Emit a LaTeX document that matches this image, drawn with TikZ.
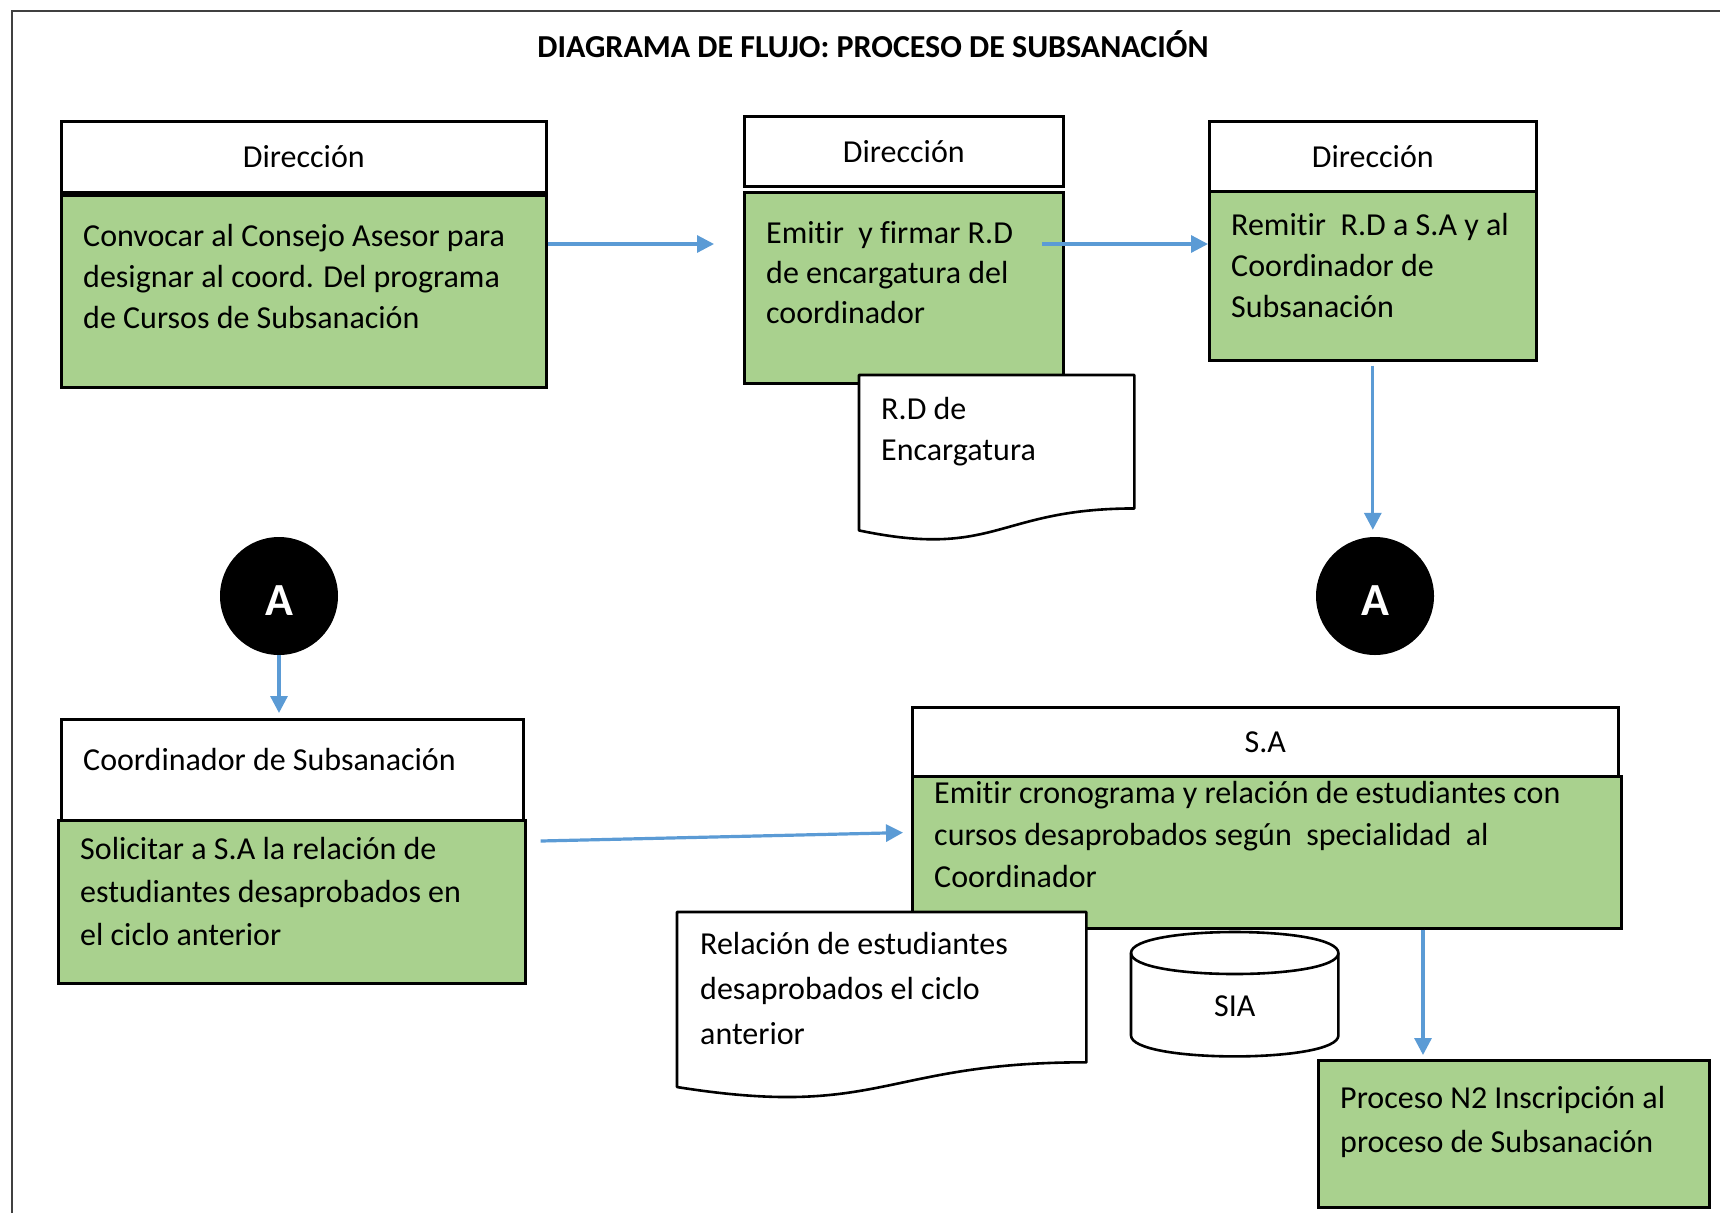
\documentclass[tikz,border=0pt]{standalone}
\usepackage{fontspec}
\setmainfont{Carlito}[Ligatures=NoCommon]
\usetikzlibrary{arrows.meta,calc}
\definecolor{boxgreen}{HTML}{A9D18E}
\definecolor{arrblue}{HTML}{5B9BD5}
\newcommand\fst{\rule{0pt}{24pt}}
\begin{document}
\begin{tikzpicture}[x=1pt,y=-1pt,
  hdr/.style={draw=black, line width=2.6pt, fill=white, anchor=north west, inner sep=0pt, font=\fontsize{32}{40}\selectfont},
  body/.style={draw=black, line width=2.6pt, fill=boxgreen, anchor=north west, inner sep=0pt},
  txt/.style={anchor=north west, inner sep=0pt, align=left, font=\fontsize{32}{#1}\selectfont},
  txt/.default=41,
  ghost/.style={anchor=north west, inner sep=0pt},
  docline/.style={draw=black, line width=2.6pt, fill=white, line join=round},
  conn/.style={circle, fill=black, minimum size=118pt, inner sep=0pt, text=white, font=\fontsize{46}{46}\selectfont\bfseries},
  arr/.style={draw=arrblue, line width=3.2pt, -{Triangle[length=17pt,width=17pt]}},
  frame/.style={draw=black!75, line width=2pt}]
\useasboundingbox (0,0) rectangle (1720,1213);
\draw[frame] (12,1213) -- (12,11) -- (1720,11);

\node[font=\fontsize{32}{38}\selectfont\bfseries] (title) at (873,44) {DIAGRAMA DE FLUJO: PROCESO DE SUBSANACIÓN};

% Box 1
\node[hdr, minimum width=485pt, minimum height=71pt] (h1) at (60,120) {Dirección};
\node[body, minimum width=485pt, minimum height=192pt] (b1) at (60,194) {};
\node[txt] (t1) at (83,222) {\fst Convocar al Consejo Asesor para\\designar al coord. Del programa\\de Cursos de Subsanación};

% Box 2
\node[hdr, minimum width=319pt, minimum height=70pt] (h2) at (743,115) {Dirección};
\node[body, minimum width=319pt, minimum height=191pt] (b2) at (743,191) {};
\node[txt=40] (t2) at (766,219) {\fst Emitir\ \ y firmar R.D\\de encargatura del\\coordinador};

% Document 1
\node[ghost, minimum width=275pt, minimum height=166pt] (d1) at (859,375) {};
\path[docline] (d1.north west) -- (d1.north east) -- ($(d1.north east)!0.802!(d1.south east)$)
  .. controls ($(d1.north)!0.802!(d1.south)$) and ($(d1.north)!1.1075!(d1.south)$) ..
  ($(d1.north west)!0.934!(d1.south west)$) -- cycle;
\node[txt] (d1t) at (881,395) {\fst R.D de\\Encargatura};

% Box 3
\node[hdr, minimum width=327pt, minimum height=70pt] (h3) at (1208,120) {Dirección};
\node[body, minimum width=327pt, minimum height=169pt] (b3) at (1208,190) {};
\node[txt] (t3) at (1231,211) {\fst Remitir\ \ R.D a S.A y al\\Coordinador de\\Subsanación};

% Connectors
\node[conn] (A1) at (279,596) {\raisebox{-19pt}[0pt][0pt]{A}};
\node[conn] (A2) at (1375,596) {\raisebox{-19pt}[0pt][0pt]{A}};

% Box 4
\node[hdr, minimum width=462pt, minimum height=101pt] (h4) at (60,718) {};
\node[txt] (h4t) at (83,746) {\fst Coordinador de Subsanación};
\node[body, minimum width=467pt, minimum height=163pt] (b4) at (57,819) {};
\node[txt=43] (t4) at (80,835) {\fst Solicitar a S.A la relación de\\estudiantes desaprobados en\\el ciclo anterior};

% Box 5
\node[hdr, minimum width=706pt, minimum height=69pt] (h5) at (911,706) {S.A};
\node[body, minimum width=709pt, minimum height=152pt] (b5) at (911,775) {};
\node[txt=42] (t5) at (934,779) {\fst Emitir cronograma y relación de estudiantes con\\cursos desaprobados según\ \ specialidad\ \ al\\Coordinador};

% Document 2
\node[ghost, minimum width=409pt, minimum height=187pt] (d2) at (677,912) {};
\path[docline] (d2.north west) -- (d2.north east) -- ($(d2.north east)!0.802!(d2.south east)$)
  .. controls ($(d2.north)!0.802!(d2.south)$) and ($(d2.north)!1.1075!(d2.south)$) ..
  ($(d2.north west)!0.934!(d2.south west)$) -- cycle;
\node[txt=45] (d2t) at (700,930) {\fst Relación de estudiantes\\desaprobados el ciclo\\anterior};

% Cylinder SIA
\node[ghost, minimum width=207pt, minimum height=124pt] (cyl) at (1131,932) {};
\path[docline] ($(cyl.north west)+(0,21)$) -- ($(cyl.south west)+(0,-21)$)
  .. controls ($(cyl.south west)+(0,7)$) and ($(cyl.south east)+(0,7)$) .. ($(cyl.south east)+(0,-21)$)
  -- ($(cyl.north east)+(0,21)$)
  .. controls ($(cyl.north east)+(0,-7)$) and ($(cyl.north west)+(0,-7)$) .. cycle;
\draw[docline, fill=none] ($(cyl.north west)+(0,21)$) .. controls ($(cyl.north west)+(0,49)$) and ($(cyl.north east)+(0,49)$) .. ($(cyl.north east)+(0,21)$);
\node[font=\fontsize{32}{38}\selectfont, inner sep=0pt] (sia) at ($(cyl.center)+(0,12)$) {SIA};

% Box 6
\node[body, minimum width=391pt, minimum height=147pt] (b6) at (1317,1059) {};
\node[txt=44] (t6) at (1340,1084) {\fst Proceso N2 Inscripción al\\proceso de Subsanación};

% Arrows
\coordinate (c1) at (714,244);
\draw[arr] (b1.east |- c1) -- (c1);
\coordinate (c2) at (1042,244);
\draw[arr] (c2) -- (c2 -| b3.west);
\draw[arr, shorten <=4pt, shorten >=7pt] (b3.south) -- (b3.south |- A2.north);
\draw[arr, shorten >=5pt] (A1.south) -- (A1.south |- h4.north);
\draw[arr] ($(b4.north east)+(14,22)$) -- ($(h5.south west)+(-8,55)$);
\coordinate (p6) at ($(b6.north west)+(106,0)$);
\draw[arr, shorten >=4pt] (p6 |- b5.south) -- (p6);
\end{tikzpicture}
\end{document}
